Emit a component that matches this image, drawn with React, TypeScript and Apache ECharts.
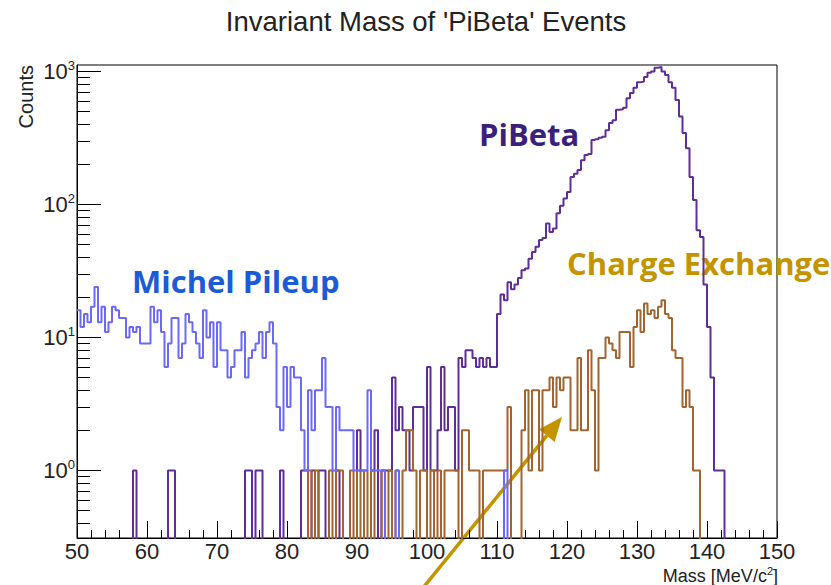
import React, { useEffect, useRef } from "react";
import * as echarts from "echarts";

// Histogram binning: 200 bins of 0.5 MeV from 50 to 150
const binStart = 50;
const binWidth = 0.5;

// Michel Pileup counts per bin
const michelCounts = [
  16, 12, 15, 13, 17, 24, 13, 17, 11, 13, 17, 16, 14, 14, 10, 12, 11, 12, 9, 9,
  9, 17, 13, 16, 11, 6, 9, 14, 14, 7, 9, 15, 13, 11, 9, 7, 16, 10, 13, 6,
  13, 8, 8, 5, 6, 8, 8, 11, 5, 7, 8, 9, 11, 7, 11, 13, 9, 3, 2, 6,
  3, 6, 5, 5, 2, 1, 4, 2, 4, 4, 7, 3, 3, 1, 3, 2, 2, 2, 2, 1,
  1, 1, 1, 4, 1, 1, 1, 1, 0, 0, 0, 1, 0, 0, 0, 0, 0, 0, 0, 0,
  0, 0, 0, 0, 0, 0, 0, 0, 0, 0, 0, 0, 0, 0, 0, 0, 0, 0, 0, 0,
  0, 0, 1, 0, 0, 0, 0, 0, 0, 0, 0, 0, 0, 0, 0, 0, 0, 0, 0, 0,
  0, 0, 0, 0, 0, 0, 0, 0, 0, 0, 0, 0, 0, 0, 0, 0, 0, 0, 0, 0,
  0, 0, 0, 0, 0, 0, 0, 0, 0, 0, 0, 0, 0, 0, 0, 0, 0, 0, 0, 0,
  0, 0, 0, 0, 0, 0, 0, 0, 0, 0, 0, 0, 0, 0, 0, 0, 0, 0, 0, 0,
];

// PiBeta counts per bin
const piBetaCounts = [
  0, 0, 0, 0, 0, 0, 0, 0, 0, 0, 0, 0, 0, 0, 0, 0, 1, 0, 0, 0,
  0, 0, 0, 0, 0, 0, 1, 1, 0, 0, 0, 0, 0, 0, 0, 0, 0, 0, 0, 0,
  0, 0, 0, 0, 0, 0, 0, 0, 1, 1, 0, 1, 1, 0, 0, 0, 0, 0, 1, 0,
  0, 0, 0, 0, 1, 1, 0, 1, 0, 1, 1, 0, 0, 0, 1, 0, 0, 0, 0, 0,
  2, 1, 0, 0, 1, 2, 0, 1, 1, 1, 5, 2, 3, 2, 2, 1, 3, 3, 3, 1,
  6, 1, 1, 2, 6, 2, 3, 3, 1, 7, 6, 8, 8, 7, 6, 7, 6, 7, 6, 6,
  15, 21, 19, 26, 23, 25, 28, 32, 33, 39, 44, 48, 54, 56, 72, 62, 66, 86, 98, 111,
  124, 161, 170, 182, 215, 236, 240, 305, 310, 318, 323, 362, 410, 430, 515, 520, 535, 630, 690, 755,
  830, 840, 910, 980, 1000, 1070, 1080, 1000, 940, 830, 755, 610, 460, 345, 265, 161, 108, 64, 57, 25,
  12, 5, 1, 1, 1, 0, 0, 0, 0, 0, 0, 0, 0, 0, 0, 0, 0, 0, 0, 0,
];

// Charge Exchange counts per bin
const chargeExCounts = [
  0, 0, 0, 0, 0, 0, 0, 0, 0, 0, 0, 0, 0, 0, 0, 0, 0, 0, 0, 0,
  0, 0, 0, 0, 0, 0, 0, 0, 0, 0, 0, 0, 0, 0, 0, 0, 0, 0, 0, 0,
  0, 0, 0, 0, 0, 0, 0, 0, 0, 0, 0, 0, 0, 0, 0, 0, 0, 0, 0, 0,
  0, 0, 0, 0, 0, 0, 1, 0, 1, 0, 0, 0, 1, 0, 1, 1, 0, 0, 1, 0,
  1, 0, 1, 0, 1, 0, 0, 1, 0, 1, 0, 1, 0, 1, 2, 2, 1, 0, 1, 1,
  0, 1, 0, 1, 0, 1, 1, 1, 1, 0, 2, 2, 1, 1, 1, 0, 1, 1, 1, 1,
  1, 1, 1, 3, 0, 0, 0, 2, 4, 1, 4, 4, 1, 4, 4, 5, 3, 5, 4, 5,
  5, 2, 2, 7, 2, 2, 8, 4, 1, 7, 7, 10, 9, 8, 7, 11, 11, 11, 6, 12,
  16, 11, 18, 15, 16, 14, 17, 19, 15, 14, 8, 7, 7, 3, 4, 3, 1, 1, 0, 0,
  0, 0, 0, 0, 0, 0, 0, 0, 0, 0, 0, 0, 0, 0, 0, 0, 0, 0, 0, 0,
];

const xMin = 50;
const xMax = 150;
const yMin = 0.31;
const yMax = 1120;
const yMajorTicks = [1, 10, 100, 1000];
const yMinorTicks = [
  0.4, 0.5, 0.6, 0.7, 0.8, 0.9,
  2, 3, 4, 5, 6, 7, 8, 9,
  20, 30, 40, 50, 60, 70, 80, 90,
  200, 300, 400, 500, 600, 700, 800, 900,
];

const colors = {
  michel: "#6a6af5",
  piBeta: "#5e2e96",
  chargeEx: "#a2652f",
  michelText: "#1c5bd6",
  piBetaText: "#3a1f7d",
  chargeExText: "#c49300",
  arrow: "#c49300",
};

const FLOOR = 0.2; // empty bins are drawn down to below the frame (clipped)

function toSteps(counts: number[]) {
  const pts: number[][] = [];
  counts.forEach((c, i) => {
    const v = c > 0 ? c : FLOOR;
    const x0 = binStart + i * binWidth;
    pts.push([x0, v], [x0 + binWidth, v]);
  });
  return pts;
}

export default function App() {
  const ref = useRef<HTMLDivElement>(null);
  useEffect(() => {
    document.body.style.margin = "0";
    if (!ref.current) return;
    const chart = echarts.init(ref.current, undefined, { renderer: "svg" });

    const tail = [418, 594];
    const tip = [562, 417];
    const ang = Math.atan2(tip[1] - tail[1], tip[0] - tail[0]);
    const headLen = 24;
    const headHalf = 10;
    const base = [tip[0] - headLen * Math.cos(ang), tip[1] - headLen * Math.sin(ang)];
    const hl = [base[0] + headHalf * Math.sin(ang), base[1] - headHalf * Math.cos(ang)];
    const hr = [base[0] - headHalf * Math.sin(ang), base[1] + headHalf * Math.cos(ang)];

    const axisFont = "'Liberation Sans', Arial, sans-serif";
    const annFont = "'Open Sans', Lato, sans-serif";

    const mkSeries = (name: string, counts: number[], color: string) => ({
      name,
      type: "line",
      data: toSteps(counts),
      showSymbol: false,
      symbol: "none",
      clip: true,
      silent: true,
      lineStyle: { color, width: 2 },
      xAxisIndex: 0,
      yAxisIndex: 0,
    });

    chart.setOption({
      animation: false,
      backgroundColor: "#ffffff",
      grid: {
        left: 77,
        top: 65,
        right: 54,
        bottom: 47,
        containLabel: false,
        outerBoundsMode: "none",
        show: true,
        borderColor: "#000",
        borderWidth: 1,
        backgroundColor: "transparent",
      },
      xAxis: {
        type: "value",
        min: xMin,
        max: xMax,
        interval: 10,
        axisLine: { show: true, lineStyle: { color: "#000", width: 1 } },
        axisTick: { show: true, inside: true, length: 17, lineStyle: { color: "#000" } },
        minorTick: { show: true, splitNumber: 5, length: 8, lineStyle: { color: "#000" } },
        splitLine: { show: false },
        axisLabel: {
          fontFamily: axisFont,
          fontSize: 22,
          lineHeight: 22,
          color: "#222",
          margin: 2,
        },
      },
      yAxis: [
        {
          type: "log",
          logBase: 10,
          min: yMin,
          max: yMax,
          position: "left",
          axisLine: { show: true, lineStyle: { color: "#000", width: 1 } },
          axisTick: {
            show: true,
            inside: true,
            length: 24,
            customValues: yMajorTicks,
            lineStyle: { color: "#000" },
          },
          splitLine: { show: false },
          axisLabel: {
            customValues: yMajorTicks,
            margin: 2,
            formatter: (v: number) => `{b|10}{sup|${Math.round(Math.log10(v))}}`,
            rich: {
              b: { fontFamily: axisFont, fontSize: 22, color: "#222" },
              sup: { fontFamily: axisFont, fontSize: 13, color: "#222", padding: [0, 0, 12, 0] },
            },
          },
        },
        {
          type: "log",
          logBase: 10,
          min: yMin,
          max: yMax,
          position: "left",
          axisLine: { show: false },
          axisTick: {
            show: true,
            inside: true,
            length: 13,
            customValues: yMinorTicks,
            lineStyle: { color: "#000" },
          },
          splitLine: { show: false },
          axisLabel: { show: false },
        },
      ],
      series: [
        mkSeries("PiBeta", piBetaCounts, colors.piBeta),
        mkSeries("Charge Exchange", chargeExCounts, colors.chargeEx),
        mkSeries("Michel Pileup", michelCounts, colors.michel),
      ],
      graphic: [
        {
          type: "text",
          x: 426,
          y: 21,
          style: {
            text: "Invariant Mass of 'PiBeta' Events",
            fontFamily: axisFont,
            fontSize: 27.5,
            fill: "#222",
            align: "center",
            verticalAlign: "middle",
          },
        },
        {
          type: "text",
          x: 26,
          y: 65,
          rotation: Math.PI / 2,
          style: {
            text: "Counts",
            fontFamily: axisFont,
            fontSize: 20,
            fill: "#222",
            align: "right",
            verticalAlign: "middle",
          },
        },
        {
          type: "text",
          x: 778,
          y: 576,
          style: {
            text: "Mass [MeV/c{sup|2}]",
            fontFamily: axisFont,
            fontSize: 18,
            fill: "#222",
            align: "right",
            verticalAlign: "middle",
            rich: {
              sup: { fontFamily: axisFont, fontSize: 11, fill: "#222", padding: [0, 0, 10, 0] },
            },
          },
        },
        {
          type: "text",
          x: 132,
          y: 281,
          style: {
            text: "Michel Pileup",
            fontFamily: annFont,
            fontWeight: "bold",
            fontSize: 31,
            fill: colors.michelText,
            align: "left",
            verticalAlign: "middle",
          },
        },
        {
          type: "text",
          x: 479,
          y: 134,
          style: {
            text: "PiBeta",
            fontFamily: annFont,
            fontWeight: "bold",
            fontSize: 31,
            fill: colors.piBetaText,
            align: "left",
            verticalAlign: "middle",
          },
        },
        {
          type: "text",
          x: 567,
          y: 263,
          style: {
            text: "Charge Exchange",
            fontFamily: annFont,
            fontWeight: "bold",
            fontSize: 31,
            fill: colors.chargeExText,
            align: "left",
            verticalAlign: "middle",
          },
        },
        {
          type: "line",
          shape: { x1: tail[0], y1: tail[1], x2: base[0], y2: base[1] },
          style: { stroke: colors.arrow, lineWidth: 3.5 },
        },
        {
          type: "polygon",
          shape: { points: [tip, hl, hr] },
          style: { fill: colors.arrow },
        },
      ],
    });

    return () => chart.dispose();
  }, []);

  return (
    <div
      ref={ref}
      style={{ position: "absolute", left: 0, top: 0, width: 831, height: 585 }}
    />
  );
}
